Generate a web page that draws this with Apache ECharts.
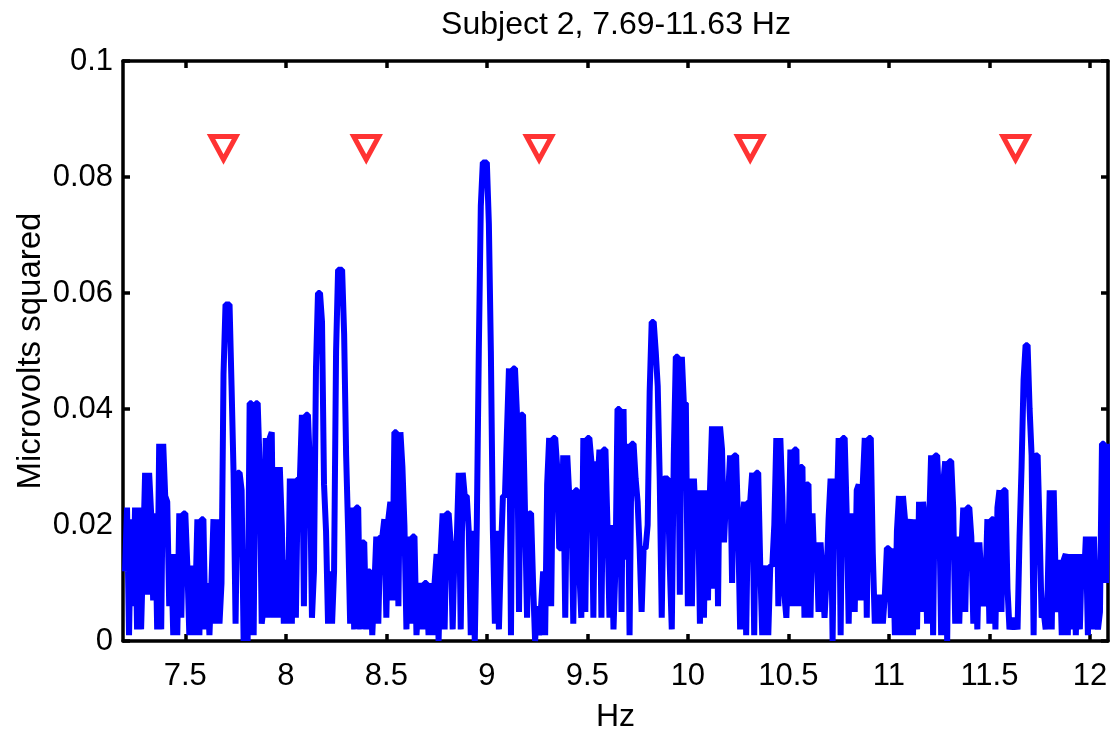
<!DOCTYPE html>
<html>
<head>
<meta charset="utf-8">
<script src="https://cdn.jsdelivr.net/npm/echarts@6/dist/echarts.min.js"></script>
<style>
html,body{margin:0;padding:0;background:#fff;}
#chart{width:1110px;height:731px;}
</style>
</head>
<body>
<div id="chart"></div>
<script>
// Frequency bins (Hz): regular spectral bins starting at 7.20 Hz, 0.01 Hz apart
const freqStart = 7.20;
const freqStep = 0.01;
// Power values (microvolts squared), one per bin (rows of 0.1 Hz)
const power = [
  0.012,0.023,0.001,0.021,0.006,0.023,0.002,0.023,0.002,0.015, // 7.20
  0.029,0.008,0.029,0.022,0.007,0.022,0.002,0.034,0.002,0.034, // 7.30
  0.025,0.024,0.006,0.015,0.001,0.015,0.001,0.022,0.004,0.022, // 7.40
  0.022,0.013,0.001,0.013,0.001,0.007,0.021,0.001,0.021,0.021, // 7.50
  0.002,0.010,0.001,0.010,0.021,0.003,0.021,0.003,0.010,0.046, // 7.60
  0.058,0.058,0.058,0.044,0.029,0.003,0.029,0.029,0.026,0.000, // 7.70
  0.013,0.000,0.041,0.041,0.001,0.041,0.041,0.030,0.003,0.006, // 7.80
  0.035,0.004,0.035,0.036,0.004,0.030,0.004,0.030,0.020,0.003, // 7.90
  0.014,0.003,0.028,0.003,0.028,0.004,0.028,0.028,0.039,0.006, // 8.00
  0.039,0.039,0.030,0.004,0.012,0.047,0.060,0.060,0.055,0.027, // 8.10
  0.019,0.003,0.012,0.003,0.012,0.050,0.064,0.064,0.064,0.053, // 8.20
  0.032,0.019,0.003,0.023,0.002,0.023,0.023,0.002,0.017,0.017, // 8.30
  0.002,0.012,0.012,0.001,0.009,0.018,0.003,0.018,0.018,0.021, // 8.40
  0.004,0.021,0.024,0.007,0.036,0.036,0.006,0.036,0.030,0.020, // 8.50
  0.002,0.018,0.003,0.018,0.018,0.001,0.007,0.010,0.002,0.010, // 8.60
  0.010,0.001,0.010,0.001,0.010,0.015,0.000,0.015,0.022,0.002, // 8.70
  0.022,0.022,0.017,0.002,0.017,0.017,0.029,0.002,0.029,0.025, // 8.80
  0.025,0.019,0.001,0.019,0.000,0.020,0.050,0.075,0.0825,0.0825, // 8.90
  0.0825,0.072,0.050,0.019,0.003,0.019,0.002,0.015,0.025,0.025, // 9.00
  0.036,0.047,0.001,0.047,0.047,0.039,0.005,0.039,0.039,0.022, // 9.10
  0.004,0.022,0.022,0.010,0.000,0.006,0.001,0.006,0.012,0.001, // 9.20
  0.027,0.035,0.006,0.035,0.035,0.030,0.016,0.016,0.032,0.004, // 9.30
  0.032,0.025,0.026,0.003,0.026,0.026,0.012,0.004,0.035,0.005, // 9.40
  0.035,0.035,0.031,0.004,0.031,0.026,0.033,0.004,0.033,0.033, // 9.50
  0.020,0.004,0.020,0.002,0.013,0.040,0.040,0.005,0.040,0.014, // 9.60
  0.034,0.001,0.034,0.034,0.028,0.024,0.016,0.005,0.016,0.016, // 9.70
  0.020,0.043,0.055,0.055,0.050,0.044,0.028,0.004,0.028,0.028, // 9.80
  0.028,0.013,0.002,0.032,0.049,0.049,0.008,0.049,0.041,0.041, // 9.90
  0.006,0.028,0.006,0.028,0.020,0.026,0.003,0.026,0.004,0.026, // 10.00
  0.007,0.026,0.037,0.009,0.037,0.006,0.037,0.033,0.017,0.025, // 10.10
  0.025,0.032,0.010,0.032,0.032,0.020,0.002,0.020,0.024,0.001, // 10.20
  0.024,0.024,0.029,0.001,0.029,0.029,0.013,0.001,0.009,0.013, // 10.30
  0.001,0.013,0.013,0.020,0.035,0.006,0.035,0.025,0.008,0.004, // 10.40
  0.015,0.033,0.006,0.033,0.033,0.006,0.030,0.030,0.004,0.027, // 10.50
  0.027,0.004,0.022,0.012,0.017,0.005,0.017,0.011,0.004,0.011, // 10.60
  0.021,0.028,0.000,0.028,0.021,0.035,0.001,0.035,0.035,0.022, // 10.70
  0.003,0.022,0.014,0.005,0.026,0.027,0.007,0.027,0.035,0.004, // 10.80
  0.035,0.035,0.015,0.003,0.008,0.003,0.008,0.003,0.008,0.016, // 10.90
  0.016,0.004,0.016,0.001,0.019,0.025,0.001,0.025,0.021,0.001, // 11.00
  0.019,0.021,0.001,0.021,0.002,0.024,0.005,0.024,0.020,0.003, // 11.10
  0.020,0.032,0.001,0.032,0.032,0.024,0.001,0.027,0.031,0.000, // 11.20
  0.031,0.031,0.023,0.003,0.018,0.003,0.015,0.023,0.005,0.023, // 11.30
  0.023,0.018,0.003,0.017,0.002,0.017,0.011,0.006,0.009,0.021, // 11.40
  0.003,0.021,0.021,0.002,0.023,0.026,0.005,0.026,0.026,0.009, // 11.50
  0.002,0.004,0.002,0.004,0.002,0.018,0.030,0.045,0.051,0.051, // 11.60
  0.040,0.032,0.001,0.032,0.032,0.019,0.004,0.005,0.002,0.009, // 11.70
  0.026,0.002,0.026,0.010,0.005,0.014,0.001,0.014,0.015,0.001, // 11.80
  0.015,0.002,0.015,0.001,0.015,0.002,0.015,0.010,0.018,0.001, // 11.90
  0.018,0.002,0.018,0.005,0.002,0.005,0.034,0.034,0.010,0.034  // 12.00
];
// Marker triangles (peak frequencies)
const markerFreqs = [7.69, 8.40, 9.26, 10.31, 11.63];
const markerLevels = [0.085, 0.085, 0.085, 0.085, 0.085];
// Axis tick values
const xTicks = [7.5, 8, 8.5, 9, 9.5, 10, 10.5, 11, 11.5, 12];

const lineData = power.map((v, i) => [Math.round((freqStart + i * freqStep) * 100) / 100, v]);
const markerData = markerFreqs.map((f, i) => [f, markerLevels[i]]);

const FONT = '"Liberation Sans", Arial, Helvetica, sans-serif';
const chart = echarts.init(document.getElementById('chart'), null, {renderer: 'canvas'});
const axisLineStyle = {color: '#000', width: 3.5};
const tickStyle = {color: '#000', width: 3.5};
chart.setOption({
  animation: false,
  backgroundColor: '#fff',
  title: {
    text: 'Subject 2, 7.69-11.63 Hz',
    left: 611, top: 4, textAlign: 'center',
    textStyle: {fontFamily: FONT, fontSize: 32, fontWeight: 'normal', color: '#000'}
  },
  grid: {left: 123, right: 2, top: 61, bottom: 90, containLabel: false, outerBoundsMode: 'none'},
  xAxis: [{
    type: 'value', min: 7.19, max: 12.09, position: 'bottom',
    name: 'Hz', nameLocation: 'middle', nameGap: 60, nameMoveOverlap: false,
    nameTextStyle: {fontFamily: FONT, fontSize: 32, color: '#000'},
    axisLine: {show: true, onZero: false, lineStyle: axisLineStyle},
    axisTick: {show: true, inside: true, length: 7, lineStyle: tickStyle, customValues: xTicks},
    axisLabel: {show: true, margin: 20, fontFamily: FONT, fontSize: 31, color: '#000', customValues: xTicks,
      formatter: v => String(+v.toFixed(1))},
    splitLine: {show: false}
  }, {
    type: 'value', min: 7.19, max: 12.09, position: 'top',
    axisLine: {show: true, onZero: false, lineStyle: axisLineStyle},
    axisTick: {show: true, inside: true, length: 7, lineStyle: tickStyle, customValues: xTicks},
    axisLabel: {show: false},
    splitLine: {show: false}
  }],
  yAxis: [{
    type: 'value', min: 0, max: 0.1, interval: 0.02, position: 'left',
    name: 'Microvolts squared', nameLocation: 'middle', nameGap: 76, nameRotate: 90, nameMoveOverlap: false,
    nameTextStyle: {fontFamily: FONT, fontSize: 33, color: '#000'},
    axisLine: {show: true, onZero: false, lineStyle: axisLineStyle},
    axisTick: {show: true, inside: true, length: 7, lineStyle: tickStyle},
    axisLabel: {show: true, margin: 10, fontFamily: FONT, fontSize: 31, color: '#000',
      formatter: v => String(+v.toFixed(2))},
    splitLine: {show: false}
  }, {
    type: 'value', min: 0, max: 0.1, interval: 0.02, position: 'right',
    axisLine: {show: true, onZero: false, lineStyle: axisLineStyle},
    axisTick: {show: true, inside: true, length: 7, lineStyle: tickStyle},
    axisLabel: {show: false},
    splitLine: {show: false}
  }],
  series: [{
    type: 'line',
    data: lineData,
    xAxisIndex: 0, yAxisIndex: 0,
    showSymbol: false, symbol: 'none',
    lineStyle: {color: '#0000ff', width: 6, join: 'bevel', cap: 'butt'},
    clip: true,
    z: 2
  }, {
    type: 'scatter',
    data: markerData,
    xAxisIndex: 0, yAxisIndex: 0,
    symbol: 'triangle', symbolRotate: 180, symbolSize: [25, 23],
    itemStyle: {color: '#ffffff', borderColor: '#ff0000', borderWidth: 5},
    z: 3
  }]
});
</script>
</body>
</html>
